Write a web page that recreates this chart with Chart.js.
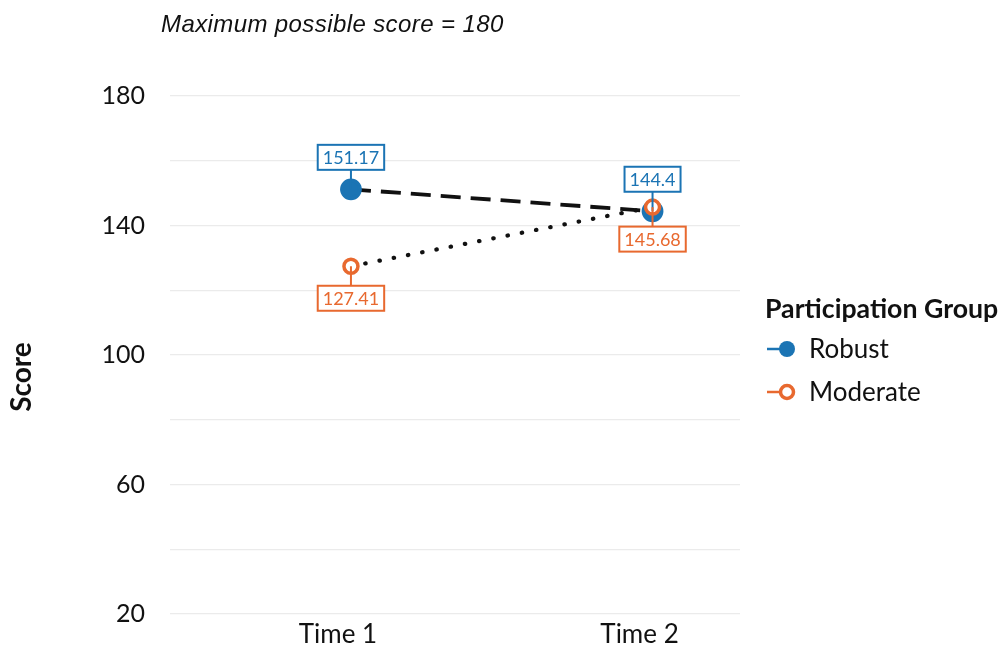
<!DOCTYPE html>
<html>
<head>
<meta charset="utf-8">
<script src="https://cdn.jsdelivr.net/npm/chart.js@4"></script>
<style>
  body { margin: 0; background: #fff; }
  #wrap { width: 1000px; height: 647px; }
</style>
</head>
<body>
<div id="wrap"><canvas id="scoreChart" width="1000" height="647"></canvas></div>
<script>
// data
const timePoints = ['Time 1', 'Time 2'];
const robustScores = [151.17, 144.4];
const moderateScores = [127.41, 145.68];
const yTickLabels = [20, 60, 100, 140, 180];
const groupNames = ['Robust', 'Moderate'];

const blue = '#1b74b4';
const orange = '#e8692f';

// labels with a box and a small stem
const valueLabels = {
  id: 'valueLabels',
  afterDatasetsDraw(chart) {
    const ctx = chart.ctx;
    ctx.save();
    ctx.font = '18px Lato';
    ctx.textAlign = 'center';
    ctx.textBaseline = 'middle';
    chart.data.datasets.forEach((ds, di) => {
      const meta = chart.getDatasetMeta(di);
      const dir = di === 0 ? -1 : 1; // Robust above, Moderate below
      meta.data.forEach((pt, i) => {
        const txt = String(ds.data[i].y);
        const w = ctx.measureText(txt).width + 10;
        const h = 25;
        const cy = pt.y + dir * 32;
        // stem
        ctx.strokeStyle = ds.borderColor;
        ctx.lineWidth = 2;
        ctx.beginPath();
        ctx.moveTo(pt.x, pt.y);
        ctx.lineTo(pt.x, cy - dir * h / 2);
        ctx.stroke();
        // box
        ctx.fillStyle = '#fff';
        ctx.fillRect(pt.x - w / 2, cy - h / 2, w, h);
        ctx.strokeRect(pt.x - w / 2, cy - h / 2, w, h);
        ctx.fillStyle = ds.borderColor;
        ctx.fillText(txt, pt.x, cy + 1);
      });
    });
    ctx.restore();
  }
};

// title, axis title and the legend on the right
const extras = {
  id: 'extras',
  afterDraw(chart) {
    const ctx = chart.ctx;
    ctx.save();
    ctx.fillStyle = '#111';
    ctx.textBaseline = 'middle';
    ctx.font = 'italic 24px "Liberation Sans"';
    ctx.letterSpacing = '0.4px';
    ctx.fillText('Maximum possible score = 180', 161, 25);
    ctx.letterSpacing = '0px';

    // y axis title
    ctx.save();
    ctx.translate(22, 377);
    ctx.rotate(-Math.PI / 2);
    ctx.textAlign = 'center';
    ctx.font = 'bold 28px Lato';
    ctx.fillText('Score', 0, 0);
    ctx.restore();

    ctx.font = 'bold 26.7px Lato';
    ctx.fillText('Participation Group', 765, 309);
    ctx.font = '26px Lato';
    chart.data.datasets.forEach((ds, i) => {
      const y = 349 + i * 43;
      ctx.strokeStyle = ds.borderColor;
      ctx.lineWidth = 2.5;
      ctx.beginPath();
      ctx.moveTo(767, y);
      ctx.lineTo(781, y);
      ctx.stroke();
      ctx.beginPath();
      if (i === 0) {
        ctx.fillStyle = ds.borderColor;
        ctx.arc(787, y, 8, 0, Math.PI * 2);
        ctx.fill();
      } else {
        ctx.fillStyle = '#fff';
        ctx.lineWidth = 3.5;
        ctx.arc(787, y, 6.5, 0, Math.PI * 2);
        ctx.fill();
        ctx.stroke();
      }
      ctx.fillStyle = '#111';
      ctx.fillText(groupNames[i], 809, y + 1);
    });
    ctx.restore();
  }
};

const ctx = document.getElementById('scoreChart').getContext('2d');
const chart = new Chart(ctx, {
  type: 'line',
  data: {
    datasets: [
      {
        label: groupNames[0],
        data: robustScores.map((v, i) => ({ x: i + 1, y: v })),
        borderColor: blue,
        backgroundColor: blue,
        pointBackgroundColor: blue,
        pointBorderColor: blue,
        pointRadius: 9,
        segment: { borderColor: '#111' },
        borderWidth: 3.8,
        borderDash: [20, 10],
        order: 2
      },
      {
        label: groupNames[1],
        data: moderateScores.map((v, i) => ({ x: i + 1, y: v })),
        borderColor: orange,
        backgroundColor: '#fff',
        pointBackgroundColor: '#fff',
        pointBorderColor: orange,
        pointBorderWidth: 3.5,
        pointRadius: 7,
        segment: { borderColor: '#111' },
        borderWidth: 4.2,
        borderDash: [0.5, 14],
        borderCapStyle: 'round',
        order: 1
      }
    ]
  },
  options: {
    responsive: false,
    animation: false,
    layout: { padding: { top: 96, right: 260, left: 0, bottom: 0 } },
    plugins: { legend: { display: false }, tooltip: { enabled: false } },
    scales: {
      x: {
        type: 'linear',
        min: 0.4,
        max: 2.29,
        afterBuildTicks: s => { s.ticks = timePoints.map((_, i) => ({ value: i + 1 })); },
        afterFit: s => { s.height = 33; s.paddingLeft = 0; s.paddingRight = 0; },
        ticks: {
          callback: v => timePoints[v - 1],
          font: { family: 'Lato', size: 26 },
          color: '#111',
          padding: 5,
          labelOffset: -13
        },
        grid: { display: false, drawTicks: false },
        border: { display: false }
      },
      y: {
        min: 20,
        max: 180,
        afterFit: s => { s.width = 170; s.paddingTop = 0; s.paddingBottom = 0; },
        ticks: {
          stepSize: 20,
          callback: v => yTickLabels.includes(v) ? v : '',
          font: { family: 'Lato', size: 25 },
          color: '#111',
          padding: 25
        },
        grid: { color: '#ebebeb', lineWidth: 1.3, drawTicks: false },
        border: { display: false }
      }
    }
  },
  plugins: [valueLabels, extras]
});
</script>
</body>
</html>
